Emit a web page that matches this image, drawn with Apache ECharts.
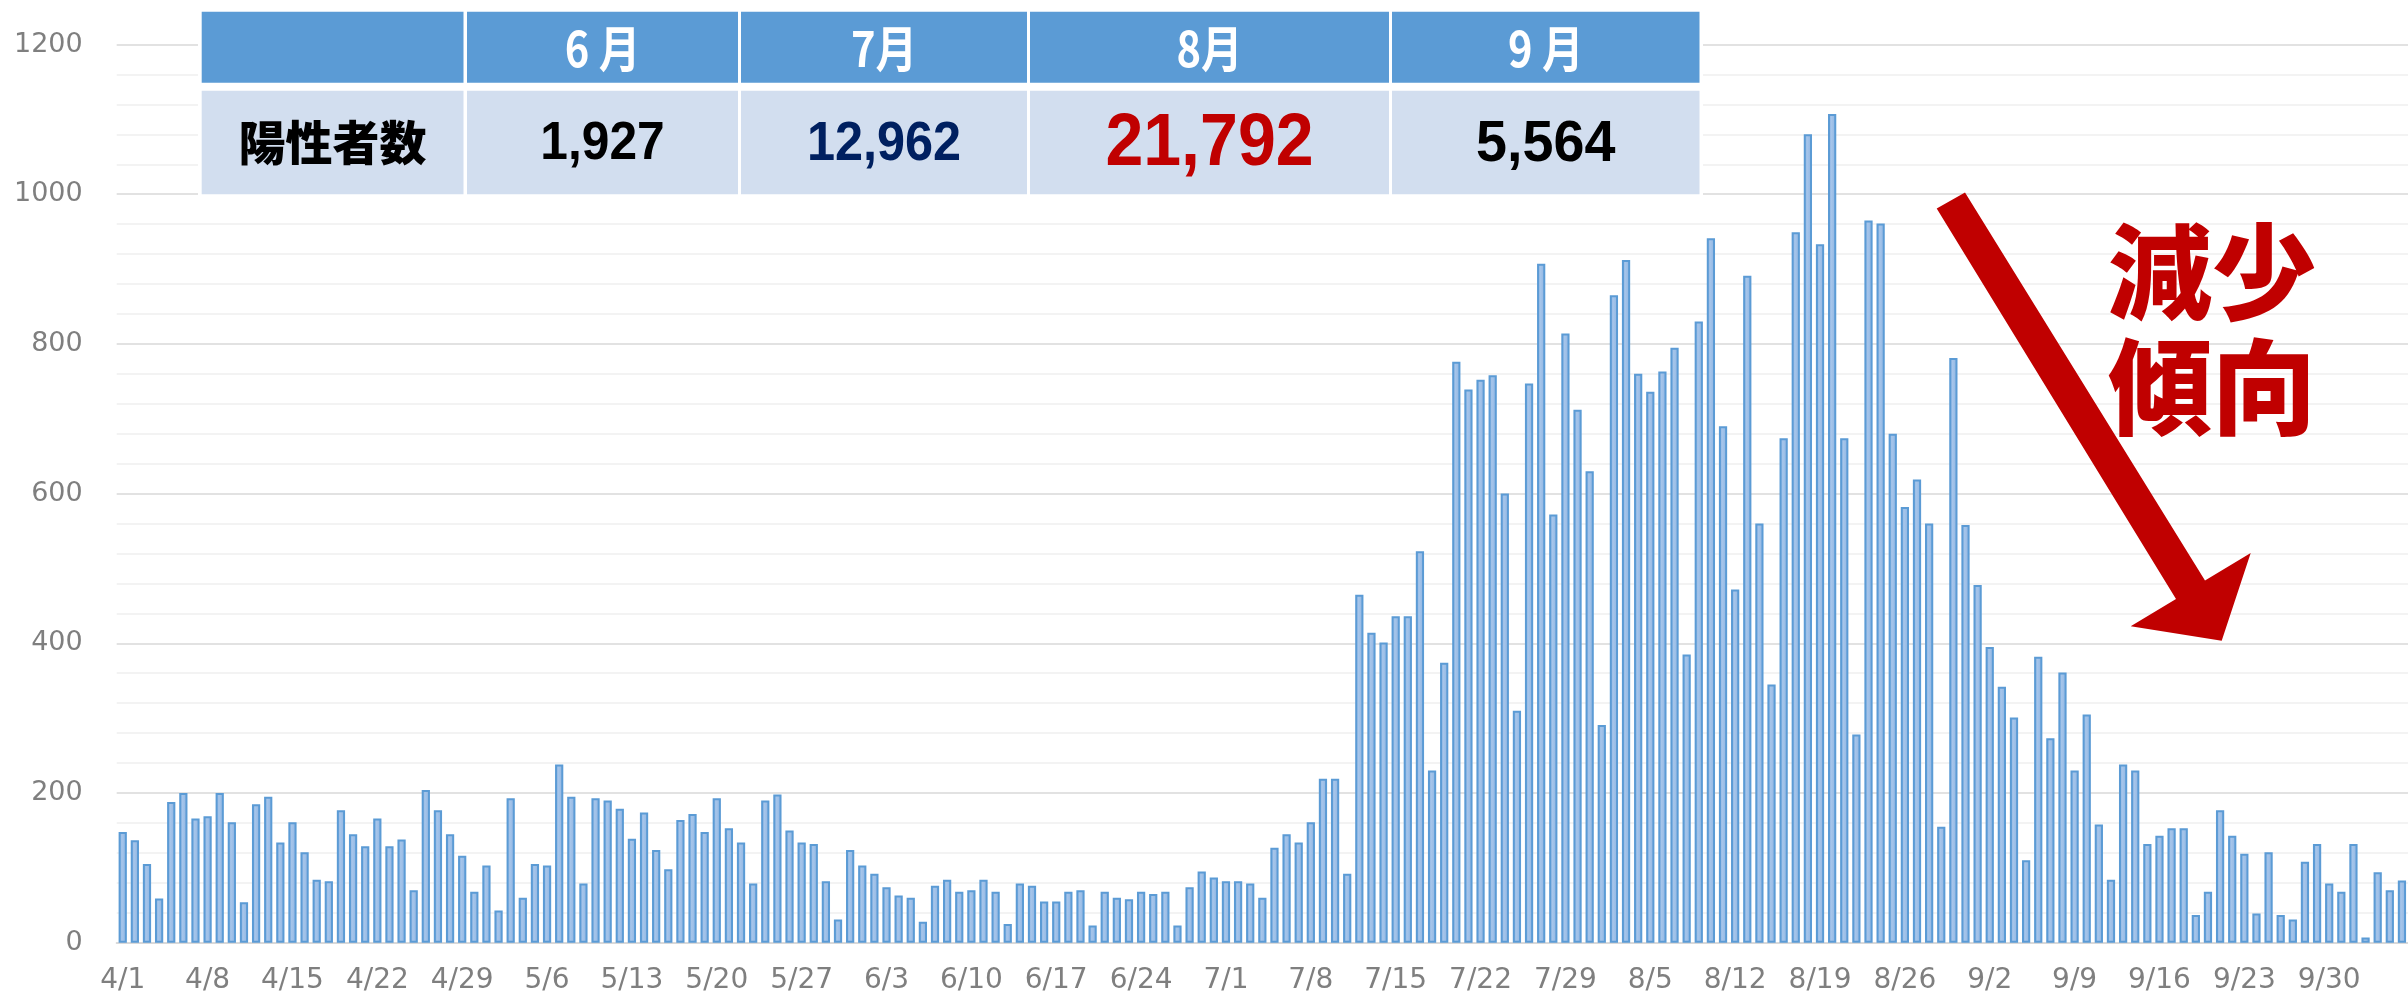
<!DOCTYPE html>
<html><head><meta charset="utf-8">
<script src="https://cdn.jsdelivr.net/npm/echarts@6/dist/echarts.min.js"></script>
<style>html,body{margin:0;padding:0;background:#fff}#c{width:2408px;height:998px}</style>
</head><body><div id="c"></div>
<script>
// Daily positive counts (4/1 - 10/6)
const aprVals = [148,137,105,59,188,200,166,169,200,161,54,185,195,134,161,121,84,82,177,145,129,166,129,138,70,204,177,145,116,68];
const mayVals = [103,43,193,60,105,103,238,195,79,193,190,179,139,174,124,98,164,172,148,193,153,134,79,190,198,150,134,132,82,31,124];
const junVals = [103,92,74,63,60,28,76,84,68,70,84,68,25,79,76,55,55,68,70,23,68,60,58,68,65,68,23,74,95,87];
const julVals = [82,82,79,60,127,145,134,161,219,219,92,465,414,401,436,436,523,230,374,776,739,752,758,600,310,747,907,572,814,712,630];
const augVals = [291,865,912,760,736,763,795,385,830,941,690,472,891,560,345,674,949,1080,933,1107,674,278,965,961,680,582,619,560,155,781,558];
const sepVals = [478,395,342,301,110,382,273,361,230,305,158,84,238,230,132,143,153,153,37,68,177,143,119,39,121,37,31,108,132,79];
const octVals = [68,132,7,94,70,83];

const months = [4,5,6,7,8,9,10];
const monthVals = [aprVals,mayVals,junVals,julVals,augVals,sepVals,octVals];

// table contents
const tableHeader = ['', '6 月', '7月', '8月', '9 月'];
const tableRowLabel = '陽性者数';
const tableTotals = ['1,927', '12,962', '21,792', '5,564'];
const annotation = ['減少', '傾向'];

const categories = [];
const values = [];
monthVals.forEach((arr, mi) => {
  arr.forEach((v, di) => { categories.push(months[mi] + '/' + (di + 1)); values.push(v); });
});

const chart = echarts.init(document.getElementById('c'), null, {renderer: 'canvas'});

// table geometry
const colX = [[201.7,463.5],[467,738],[741,1027],[1030,1389],[1392,1699.5]];
const hdrY = [11.7, 82.7], bodyY = [90.7, 194.3];
const graphics = [];
graphics.push({type:'rect', shape:{x:198, y:8, width:1505, height:190}, style:{fill:'#ffffff'}, z:10});
colX.forEach((c, i) => {
  graphics.push({type:'rect', shape:{x:c[0], y:hdrY[0], width:c[1]-c[0], height:hdrY[1]-hdrY[0]}, style:{fill:'#5B9BD5'}, z:11});
  graphics.push({type:'rect', shape:{x:c[0], y:bodyY[0], width:c[1]-c[0], height:bodyY[1]-bodyY[0]}, style:{fill:'#D2DEEF'}, z:11});
  const cx = (c[0]+c[1])/2;
  if (tableHeader[i]) {
    graphics.push({type:'text', x:cx, y:(hdrY[0]+hdrY[1])/2 + 1, scaleX:0.85, z:12,
      style:{text:tableHeader[i], fill:'#ffffff', font:'bold 49px "Noto Sans CJK JP"', textAlign:'center', textVerticalAlign:'middle'}});
  }
});
graphics.push({type:'text', x:(colX[0][0]+colX[0][1])/2, y:(bodyY[0]+bodyY[1])/2, z:12,
  style:{text:tableRowLabel, fill:'#000000', font:'900 47px "Noto Sans CJK JP"', textAlign:'center', textVerticalAlign:'middle'}});
const numStyles = [
  {size:54, color:'#000000', sx:0.92},
  {size:56, color:'#002060', sx:0.9},
  {size:74, color:'#C00000', sx:0.92},
  {size:58, color:'#000000', sx:0.96}
];
tableTotals.forEach((t, i) => {
  const c = colX[i+1], s = numStyles[i];
  graphics.push({type:'text', x:(c[0]+c[1])/2, y:(bodyY[0]+bodyY[1])/2 + 2, scaleX:s.sx, z:12,
    style:{text:t, fill:s.color, font:'bold ' + s.size + 'px "Liberation Sans"', textAlign:'center', textVerticalAlign:'middle'}});
});
// red arrow
graphics.push({type:'polygon', z:12, shape:{points:[[1936.7,208.5],[1965,192.6],[2205,580.4],[2250.7,553.1],[2221.7,640.8],[2130.7,626.2],[2176,598.9]]},
  style:{fill:'#C00000'}});
graphics.push({type:'text', x:2212, y:272, z:12, style:{text:annotation[0], fill:'#C00000', font:'900 104px "Noto Sans CJK JP"', textAlign:'center', textVerticalAlign:'middle'}});
graphics.push({type:'text', x:2212, y:387, z:12, style:{text:annotation[1], fill:'#C00000', font:'900 104px "Noto Sans CJK JP"', textAlign:'center', textVerticalAlign:'middle'}});

chart.setOption({
  animation: false,
  backgroundColor: '#ffffff',
  grid: {left: 116.67, top: 44.5, width: 2299.5, height: 898.2, containLabel: false},
  xAxis: {
    type: 'category', data: categories, boundaryGap: true,
    axisLine: {lineStyle: {color: '#D9D9D9', width: 2}},
    axisTick: {interval: 6, length: 7, lineStyle: {color: '#D9D9D9', width: 2}},
    axisLabel: {interval: 6, color: '#7F7F7F', fontSize: 28, fontFamily: 'DejaVu Sans', margin: 24}
  },
  yAxis: {
    type: 'value', min: 0, max: 1200, interval: 200,
    axisLine: {show: false}, axisTick: {show: false},
    axisLabel: {color: '#7F7F7F', fontSize: 27, fontFamily: 'DejaVu Sans', margin: 34, formatter: (v) => String(v)},
    splitLine: {lineStyle: {color: '#D9D9D9', width: 1.5}},
    minorTick: {show: false, splitNumber: 5},
    minorSplitLine: {show: true, lineStyle: {color: '#F0F0F0', width: 1.5}}
  },
  series: [{
    type: 'bar', data: values, barWidth: '68%',
    itemStyle: {
      color: new echarts.graphic.LinearGradient(0, 0, 1, 0, [
        {offset: 0, color: '#7DABDF'}, {offset: 0.4, color: '#A6C5EA'},
        {offset: 0.7, color: '#99BCE6'}, {offset: 1, color: '#7DABDF'}]),
      borderColor: '#5B9BD5', borderWidth: 2
    }
  }],
  graphic: graphics
});
</script></body></html>
